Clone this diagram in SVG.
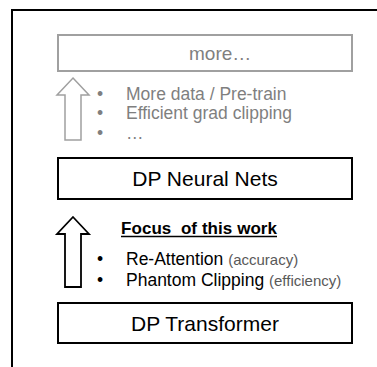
<svg xmlns="http://www.w3.org/2000/svg" width="377" height="367" viewBox="0 0 377 367">
  <style>
    .t { font-family: "Liberation Sans", Arial, sans-serif; }
    .box { fill: #ffffff; stroke: #000000; stroke-width: 2; }
    .boxg { fill: #ffffff; stroke: #a0a0a0; stroke-width: 2; }
    .big { font-size: 21px; fill: #000000; }
    .item { font-size: 17.5px; }
    .gray { fill: #7f7f7f; }
    .note { font-size: 15px; fill: #595959; }
  </style>
  <rect width="377" height="367" fill="#ffffff"/>
  <!-- outer frame (left and top edges) -->
  <path d="M12,367 V10 H377" fill="none" stroke="#000000" stroke-width="2"/>

  <g id="more">
    <rect class="boxg" x="58" y="35" width="294" height="36"/>
    <text class="t gray" x="189" y="60" font-size="19">more…</text>
  </g>

  <g id="neural-nets">
    <rect class="box" x="58" y="158" width="294" height="41"/>
    <text class="t big" x="205" y="185.5" text-anchor="middle">DP Neural Nets</text>
  </g>

  <g id="transformer">
    <rect class="box" x="58" y="303" width="294" height="40"/>
    <text class="t big" x="205" y="330.5" text-anchor="middle">DP Transformer</text>
  </g>

  <g id="connectors">
    <polygon points="73,78 89,95 81,95 81,140 65,140 65,95 57,95" fill="#ffffff" stroke="#a0a0a0" stroke-width="1.5" stroke-linejoin="miter"/>
    <polygon points="73,217 89,234 81,234 81,287 65,287 65,234 57,234" fill="#ffffff" stroke="#000000" stroke-width="1.8" stroke-linejoin="miter"/>
  </g>

  <g id="future-list" class="t item gray">
    <text x="97" y="99.5">•</text>
    <text x="126" y="99.5">More data / Pre-train</text>
    <text x="97" y="119">•</text>
    <text x="126" y="119">Efficient grad clipping</text>
    <text x="97" y="138.5">•</text>
    <text x="126" y="138.5">…</text>
  </g>

  <g id="focus">
    <text class="t" x="121" y="234" font-size="17" font-weight="bold" textLength="156" lengthAdjust="spacing" xml:space="preserve">Focus  of this work</text>
    <line x1="121" y1="236.5" x2="277" y2="236.5" stroke="#000000" stroke-width="1.5"/>
    <text class="t item" x="97" y="265" fill="#000000">•</text>
    <text class="t item" x="126" y="265" fill="#000000">Re-Attention <tspan class="note">(accuracy)</tspan></text>
    <text class="t item" x="97" y="286" fill="#000000">•</text>
    <text class="t item" x="126" y="286" fill="#000000">Phantom Clipping <tspan class="note">(efficiency)</tspan></text>
  </g>
</svg>
